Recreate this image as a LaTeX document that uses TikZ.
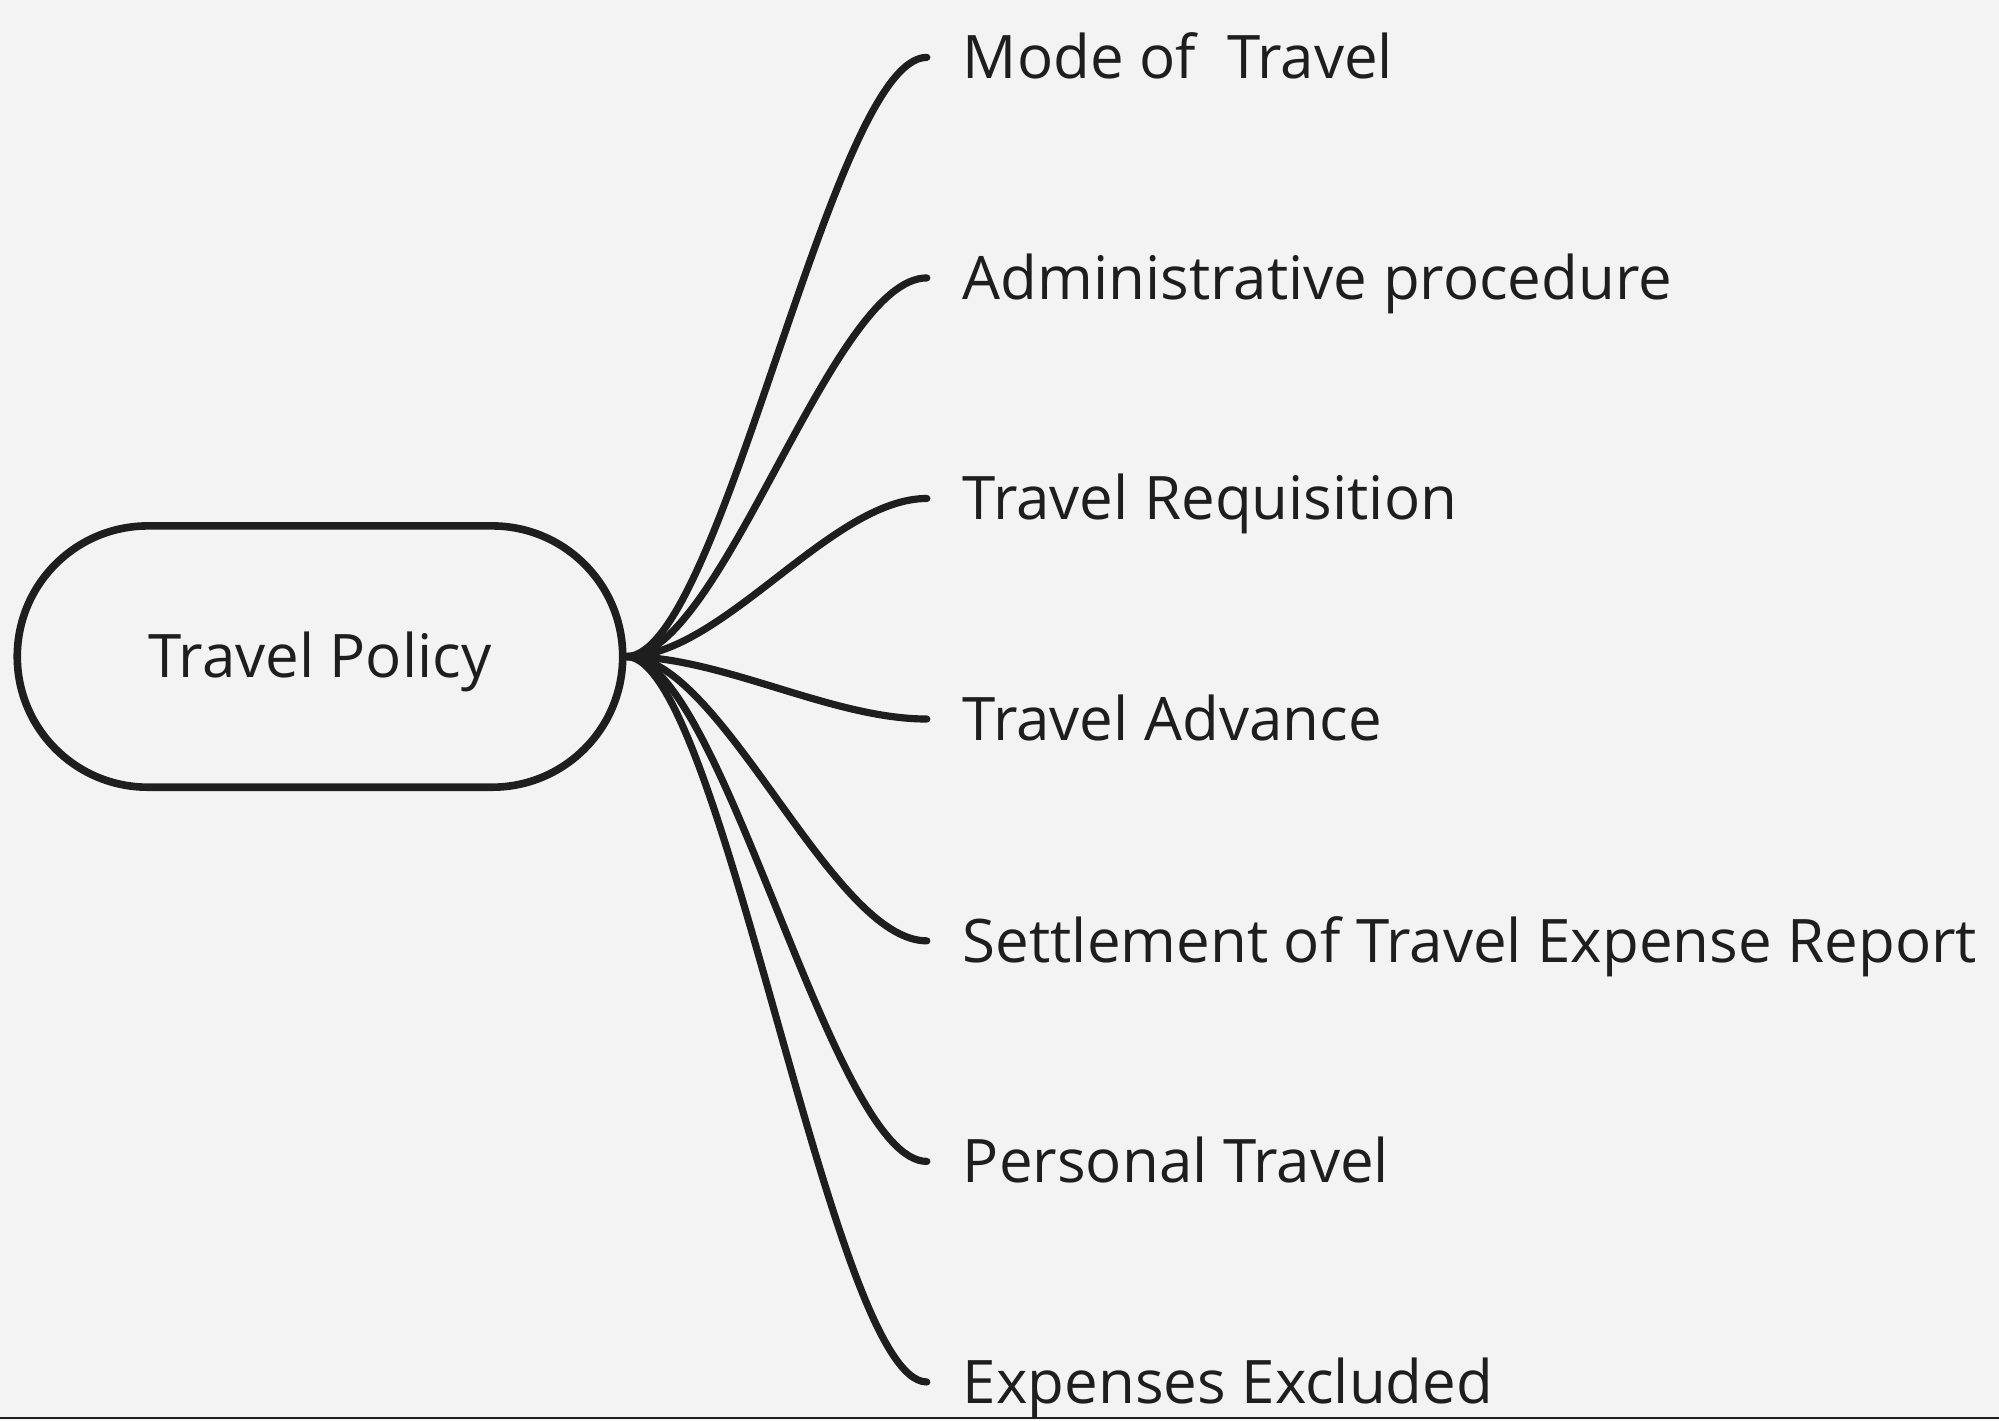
\documentclass[tikz,border=0pt]{standalone}
\usepackage{fontspec}
\setmainfont{Open Sans}
\usepackage{xcolor}
\definecolor{paper}{HTML}{F3F3F3}
\definecolor{ink}{HTML}{1E1E1E}

\begin{document}
\begin{tikzpicture}[x=0.02cm, y=-0.02cm,
        policybox/.style={draw=ink, line width=3.4pt, rectangle, rounded corners=2.05cm,
            minimum width=9.5cm, minimum height=4.1cm, text=ink,
            font=\fontsize{26.8pt}{32pt}\selectfont, text height=19.1pt, text depth=0pt},
        topic/.style={anchor=west, inner xsep=0.56cm, inner ysep=0pt, text=ink,
            font=\fontsize{26.8pt}{32pt}\selectfont, text height=19.1pt, text depth=0pt},
        branch/.style={draw=ink, line width=3.2pt, line cap=round}]
                    \fill[paper] (0,0) rectangle (1568,1114);
                    \useasboundingbox (0,0) rectangle (1568,1114);
                    \draw[ink, line width=1pt] (0,1112) -- (1568,1112);

                    \node[policybox] (policy) at (251,515) {Travel Policy};

                    \node[topic] (mode) at (727,45) {Mode of~ Travel};
                    \node[topic] (admin) at (727,218) {Administrative procedure};
                    \node[topic] (requisition) at (727,391) {Travel Requisition};
                    \node[topic] (advance) at (727,564) {Travel Advance};
                    \node[topic] (settlement) at (727,738) {Settlement of Travel Expense Report};
                    \node[topic] (personal) at (727,911) {Personal Travel};
                    \node[topic] (excluded) at (727,1084) {Expenses Excluded};

                    \draw[branch] (policy.east) .. controls +(75,0) and +(-75,0) .. (mode.west);
                    \draw[branch] (policy.east) .. controls +(75,0) and +(-75,0) .. (admin.west);
                    \draw[branch] (policy.east) .. controls +(75,0) and +(-75,0) .. (requisition.west);
                    \draw[branch] (policy.east) .. controls +(75,0) and +(-75,0) .. (advance.west);
                    \draw[branch] (policy.east) .. controls +(75,0) and +(-75,0) .. (settlement.west);
                    \draw[branch] (policy.east) .. controls +(75,0) and +(-75,0) .. (personal.west);
                    \draw[branch] (policy.east) .. controls +(75,0) and +(-75,0) .. (excluded.west);
                \end{tikzpicture}
\end{document}
